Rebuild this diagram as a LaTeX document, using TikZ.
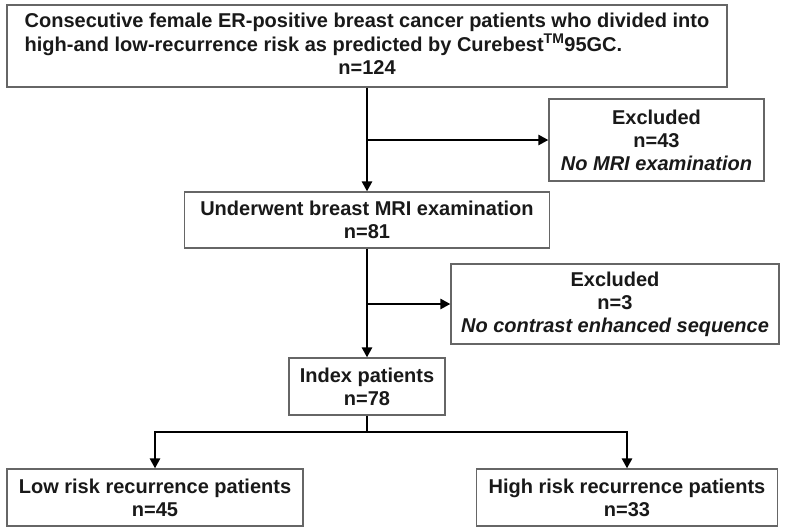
\documentclass[tikz,border=0pt]{standalone}
\usepackage{fontspec}
\setmainfont{Liberation Sans}
\usetikzlibrary{arrows.meta}
\tikzset{
    box/.style={draw=black!60, line width=1.2pt, fill=white, inner sep=0pt, align=center,
        font=\fontsize{20}{23}\selectfont\bfseries, text=black!90},
    flow/.style={line width=2.5pt, -{Triangle[length=10pt,width=10pt]}},
    link/.style={line width=2.5pt}
}
\begin{document}
\begin{tikzpicture}[x=1pt, y=-1pt]
    \useasboundingbox (0,0) rectangle (800,528);
    \node[box, minimum width=720pt, minimum height=82pt] (cohort) at (367,46)
        {\begin{tabular}{@{}l@{}}
         Consecutive female ER-positive breast cancer patients who divided into\\
         high-and low-recurrence risk as predicted by Curebest\textsuperscript{TM}95GC.\\
         \multicolumn{1}{@{}c@{}}{n=124}
         \end{tabular}};
    \node[box, minimum width=215pt, minimum height=82pt] (excl1) at (656.5,140)
        {Excluded\\n=43\\\itshape No MRI examination};
    \node[box, minimum width=365pt, minimum height=56pt] (mri) at (367,220)
        {Underwent breast MRI examination\\n=81};
    \node[box, minimum width=328pt, minimum height=80pt] (excl2) at (615,304)
        {Excluded\\n=3\\\itshape No contrast enhanced sequence};
    \node[box, minimum width=156pt, minimum height=57pt] (index) at (367,386.5)
        {Index patients\\n=78};
    \node[box, minimum width=296pt, minimum height=57pt] (low) at (155,497.5)
        {Low risk recurrence patients\\n=45};
    \node[box, minimum width=301pt, minimum height=57pt] (high) at (627,497.5)
        {High risk recurrence patients\\n=33};
    \coordinate (split) at (367,432);
    \draw[flow] (cohort.south) -- (mri.north);
    \draw[flow] (cohort.south |- excl1.west) -- (excl1.west);
    \draw[flow] (mri.south) -- (index.north);
    \draw[flow] (mri.south |- excl2.west) -- (excl2.west);
    \draw[link] (index.south) -- (split);
    \foreach \target in {low,high}
        \draw[flow] (split) -| (\target.north);
\end{tikzpicture}
\end{document}
